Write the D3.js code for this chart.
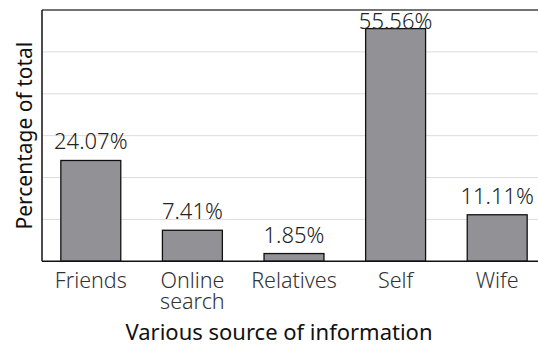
<!DOCTYPE html>
<html><head><meta charset="utf-8">
<script src="https://cdn.jsdelivr.net/npm/d3@7"></script>
<style>body{margin:0;background:#fff}</style>
</head><body>
<script>
const categories = ["Friends", "Online\nsearch", "Relatives", "Self", "Wife"];
const values = [24.07, 7.41, 1.85, 55.56, 11.11];
const valueLabels = ["24.07%", "7.41%", "1.85%", "55.56%", "11.11%"];
const yTicks = [0, 10, 20, 30, 40, 50, 60];

(function () {
const W = 538, H = 345;
const mLeft = 42, mTop = 10, mBottom = 261.3;
const font = "'Noto Sans', sans-serif";

const svg = d3.select("body").append("svg").attr("width", W).attr("height", H);

const x = d3.scaleBand().domain(categories).range([40, 548]).paddingInner(0.41).paddingOuter(0.205);
const y = d3.scaleLinear().domain([0, 60]).range([mBottom, mTop]);

svg.append("g").selectAll("line").data(yTicks.filter(t => t > 0 && t < 60)).join("line")
  .attr("x1", mLeft).attr("x2", W).attr("y1", d => y(d)).attr("y2", d => y(d))
  .attr("stroke", "#dcdcdc").attr("stroke-width", 1);

svg.append("line").attr("x1", mLeft).attr("x2", W).attr("y1", y(60)).attr("y2", y(60))
  .attr("stroke", "#444").attr("stroke-width", 1.6);

svg.append("g").selectAll("rect").data(values).join("rect")
  .attr("x", (d, i) => x(categories[i]))
  .attr("width", x.bandwidth())
  .attr("y", d => y(d))
  .attr("height", d => y(0) - y(d))
  .attr("fill", "#929296").attr("stroke", "#111").attr("stroke-width", 1.3);

svg.append("g").selectAll("text").data(values).join("text")
  .attr("x", (d, i) => x(categories[i]) + x.bandwidth() / 2)
  .attr("y", d => Math.max(y(d) - 11, mTop + 18.5))
  .attr("text-anchor", "middle")
  .attr("font-family", font).attr("font-size", 22).attr("font-weight", 300)
  .attr("fill", "#222")
  .text((d, i) => valueLabels[i]);

svg.append("line").attr("x1", mLeft).attr("x2", mLeft).attr("y1", mTop).attr("y2", mBottom)
  .attr("stroke", "#111").attr("stroke-width", 1.5);
svg.append("line").attr("x1", mLeft).attr("x2", W).attr("y1", mBottom).attr("y2", mBottom)
  .attr("stroke", "#111").attr("stroke-width", 1.5);

const cl = svg.append("g").selectAll("text").data(categories).join("text")
  .attr("x", d => x(d) + x.bandwidth() / 2)
  .attr("y", 288)
  .attr("text-anchor", "middle")
  .attr("font-family", font).attr("font-size", 21.5).attr("font-weight", 300)
  .attr("fill", "#333");
cl.each(function (d) {
  const sel = d3.select(this);
  sel.selectAll("tspan").data(d.split("\n")).join("tspan")
    .attr("x", sel.attr("x"))
    .attr("dy", (l, i) => i === 0 ? 0 : 20.6)
    .text(l => l);
});

svg.append("text").attr("x", 279).attr("y", 339.5).attr("text-anchor", "middle")
  .attr("font-family", font).attr("font-size", 22).attr("fill", "#111")
  .text("Various source of information");
svg.append("text").attr("transform", `translate(32,${(mTop + mBottom) / 2}) rotate(-90)`)
  .attr("text-anchor", "middle")
  .attr("font-family", font).attr("font-size", 21).attr("fill", "#111")
  .text("Percentage of total");
})();
</script>
</body></html>
